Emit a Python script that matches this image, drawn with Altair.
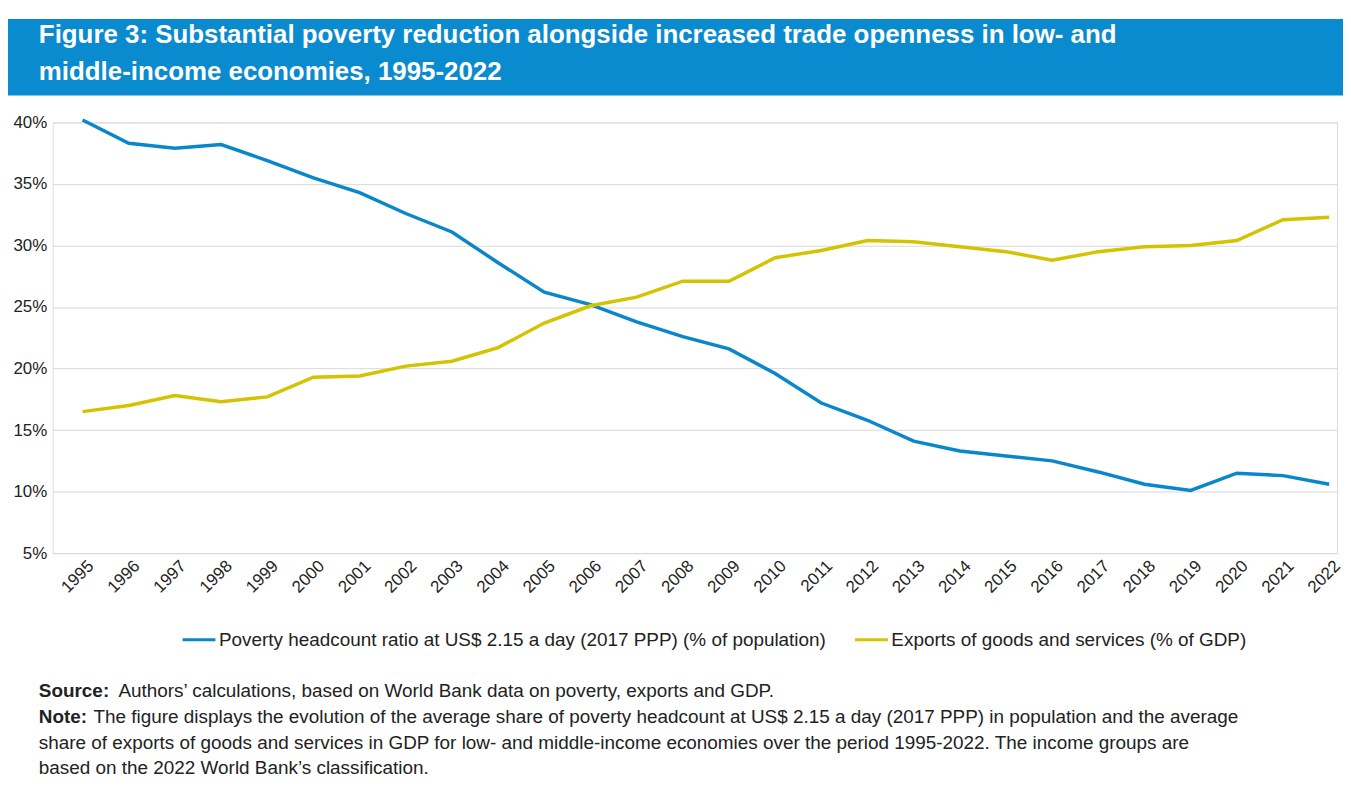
import altair as alt
import pandas as pd

years = list(range(1995, 2023))
poverty = [40.2, 38.3, 37.9, 38.2, 36.9, 35.5, 34.3, 32.6, 31.1, 28.6, 26.2, 25.2, 23.8, 22.6,
           21.6, 19.6, 17.2, 15.8, 14.1, 13.3, 12.9, 12.5, 11.6, 10.6, 10.1, 11.5, 11.3, 10.6]
exports = [16.5, 17.0, 17.8, 17.3, 17.7, 19.3, 19.4, 20.2, 20.6, 21.7, 23.7, 25.1, 25.8, 27.1,
           27.1, 29.0, 29.6, 30.4, 30.3, 29.9, 29.5, 28.8, 29.5, 29.9, 30.0, 30.4, 32.1, 32.3]
series_names = ["Poverty headcount ratio at US$ 2.15 a day (2017 PPP) (% of population)",
                "Exports of goods and services (% of GDP)"]
series_colors = ["#0A87CB", "#D4C300"]
y_ticks = [5, 10, 15, 20, 25, 30, 35, 40]

title_lines = ["Figure 3: Substantial poverty reduction alongside increased trade openness in low- and",
               "middle-income economies, 1995-2022"]
note_lines = [
    ("Source:", "Authors\u2019 calculations, based on World Bank data on poverty, exports and GDP."),
    ("Note:", "The figure displays the evolution of the average share of poverty headcount at US$ 2.15 a day (2017 PPP) in population and the average"),
    ("", "share of exports of goods and services in GDP for low- and middle-income economies over the period 1995-2022. The income groups are"),
    ("", "based on the 2022 World Bank\u2019s classification."),
]

FONT = "Liberation Sans"
BANNER = "#0A8ACF"
W, H = 1291, 433

rows = []
for i, yr in enumerate(years):
    rows.append({"year": yr, "value": poverty[i], "series": series_names[0]})
    rows.append({"year": yr, "value": exports[i], "series": series_names[1]})
df = pd.DataFrame(rows)

lines = alt.Chart(df).mark_line(strokeWidth=3.5, clip=False).encode(
    x=alt.X("year:Q",
            scale=alt.Scale(domain=[1994.354, 2022.17], nice=False, zero=False),
            axis=alt.Axis(values=years, format="d", labelAngle=-45, labelAlign="right",
                          labelBaseline="middle", labelPadding=10, labelOffset=8,
                          grid=False, ticks=False, domain=False, title=None,
                          labelFontSize=17, labelColor="#222222", labelFont=FONT)),
    y=alt.Y("value:Q",
            scale=alt.Scale(domain=[5, 40], nice=False, zero=False),
            axis=alt.Axis(values=y_ticks, labelExpr="datum.value + '%'", ticks=False,
                          domain=False, title=None, labelPadding=6, gridColor="#D9D9D9",
                          gridWidth=1, labelFontSize=17, labelColor="#222222", labelFont=FONT)),
    color=alt.Color("series:N",
                    scale=alt.Scale(domain=series_names, range=series_colors),
                    legend=alt.Legend(orient="none", legendX=129, legendY=502, direction="horizontal",
                                      title=None, symbolType="stroke", symbolSize=1089,
                                      symbolStrokeWidth=3, labelFontSize=19, labelFont=FONT,
                                      labelColor="#222222", labelLimit=1000, columnPadding=22,
                                      labelOffset=2)),
    order=alt.Order("year:Q"),
)

banner = alt.Chart(pd.DataFrame({"k": [0]})).mark_rect(color=BANNER).encode(
    x=alt.value(-45), x2=alt.value(W + 6), y=alt.value(-104), y2=alt.value(-27))

title_layers = []
for i, t in enumerate(title_lines):
    title_layers.append(
        alt.Chart(pd.DataFrame({"t": [t]})).mark_text(
            align="left", baseline="middle", font=FONT, fontSize=26, fontWeight="bold",
            color="white").encode(x=alt.value(-14), y=alt.value(-88 + i * 37), text="t:N"))

note_layers = []
note_y = [572, 598, 624, 649]
bold_w = {"Source:": 80, "Note:": 55, "": 0}
for i, (b, rest) in enumerate(note_lines):
    if b:
        note_layers.append(
            alt.Chart(pd.DataFrame({"t": [b]})).mark_text(
                align="left", baseline="middle", font=FONT, fontSize=19, fontWeight="bold",
                color="#222222").encode(x=alt.value(-14), y=alt.value(note_y[i]), text="t:N"))
    note_layers.append(
        alt.Chart(pd.DataFrame({"t": [rest]})).mark_text(
            align="left", baseline="middle", font=FONT, fontSize=19,
            color="#222222").encode(x=alt.value(-14 + bold_w[b]), y=alt.value(note_y[i]), text="t:N"))

chart = alt.layer(banner, *title_layers, lines, *note_layers).properties(
    width=W, height=H,
    padding={"left": 0, "top": 9, "right": 0, "bottom": 0},
).configure_view(stroke=None).configure(background="white")

chart.save("out.html", embed_options={"renderer": "svg", "actions": False})
